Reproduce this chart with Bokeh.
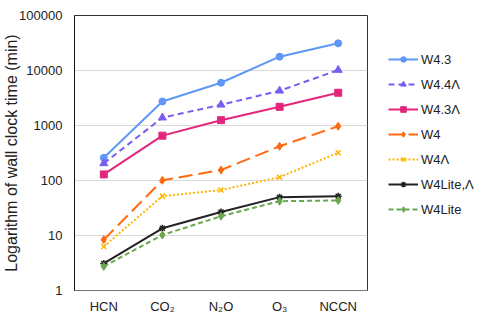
from bokeh.plotting import figure
from bokeh.layouts import row
from bokeh.models import Range1d, FixedTicker, NumeralTickFormatter, Legend, LegendItem
from bokeh.embed import file_html
from bokeh.resources import INLINE

categories = ["HCN", "CO\u2082", "N\u2082O", "O\u2083", "NCCN"]
w43 = [259, 2730, 5990, 17850, 31250]
w44L = [205, 1390, 2380, 4280, 10200]
w43L = [129, 654, 1250, 2185, 3935]
w4 = [8.4, 101, 155, 419, 970]
w4L = [6.3, 52, 67, 115, 320]
w4liteL = [3.1, 13.5, 26.8, 49.8, 51.9]
w4lite = [2.74, 10.2, 22.4, 42, 43.4]
y_ticks = [1, 10, 100, 1000, 10000, 100000]

series = [
    ("W4.3", w43, "#5f97f6", "solid", "circle", 7),
    ("W4.4\u039b", w44L, "#7b5cf0", "6 4", "triangle", 8),
    ("W4.3\u039b", w43L, "#e3267c", "solid", "square", 7),
    ("W4", w4, "#ff6a10", "14 6", "diamond", 8),
    ("W4\u039b", w4L, "#ffb400", "2 2", "x", 7),
    ("W4Lite,\u039b", w4liteL, "#222222", "solid", "asterisk", 7),
    ("W4Lite", w4lite, "#6aa84f", "5 3", "diamond", 8),
]

# main chart
p = figure(width=368, height=327, x_range=categories, y_range=Range1d(1, 100000),
           y_axis_type="log", output_backend="svg", toolbar_location=None,
           min_border_left=73, min_border_right=1, min_border_top=15, min_border_bottom=37)
p.x_range.range_padding = 0

# legend panel (separate figure so the legend can sit beside the frame)
lg = figure(width=124, height=327, x_range=categories, y_range=Range1d(1, 100000),
            y_axis_type="log", output_backend="svg", toolbar_location=None,
            x_axis_location=None, y_axis_location=None,
            min_border_left=0, min_border_right=0, min_border_top=0, min_border_bottom=0)
lg.outline_line_color = None
lg.grid.grid_line_color = None

items = []
for name, vals, color, dash, marker, size in series:
    lw = 1.5 if marker in ("x", "asterisk") else 1
    p.line(categories, vals, line_color=color, line_width=2, line_dash=dash)
    p.scatter(categories, vals, marker=marker, size=size, fill_color=color,
              line_color=color, line_width=lw)
    r1 = lg.line(categories, vals, line_color=color, line_width=2, line_dash=dash, visible=False)
    r2 = lg.scatter(categories, vals, marker=marker, size=size, fill_color=color,
                    line_color=color, line_width=lw, visible=False)
    items.append(LegendItem(label=name, renderers=[r1, r2]))

legend = Legend(items=items, location=(20, 71), padding=0, margin=0,
                border_line_color=None, background_fill_alpha=0,
                glyph_width=30, glyph_height=14, label_height=20,
                spacing=5, label_standoff=3, click_policy="none",
                label_text_font="Liberation Sans", label_text_font_size="13px",
                label_text_color="#222222")
lg.add_layout(legend, "center")

p.outline_line_color = "#333333"
p.xgrid.grid_line_color = None
p.ygrid.grid_line_color = "#dadada"
p.ygrid.grid_line_width = 1

p.yaxis.ticker = FixedTicker(ticks=y_ticks, minor_ticks=[])
p.yaxis.formatter = NumeralTickFormatter(format="0")
p.yaxis.axis_label = "Logarithm of wall clock time (min)"
p.yaxis.axis_label_text_font = "Liberation Sans"
p.yaxis.axis_label_text_font_size = "16px"
p.yaxis.axis_label_text_font_style = "normal"
p.yaxis.axis_label_text_color = "#222222"
p.yaxis.axis_label_standoff = -4
p.yaxis.axis_line_color = "#111111"

p.xaxis.axis_line_color = "#777777"
for ax in (p.xaxis, p.yaxis):
    ax.major_tick_line_color = None
    ax.minor_tick_line_color = None
    ax.major_tick_out = 0
    ax.major_tick_in = 0
    ax.minor_tick_out = 0
    ax.minor_tick_in = 0
    ax.major_label_text_font = "Liberation Sans"
    ax.major_label_text_font_size = "13px"
    ax.major_label_text_color = "#222222"
p.yaxis.major_label_standoff = 12
p.xaxis.major_label_standoff = 8

layout = row(p, lg, spacing=0)
open("out.html", "w").write(file_html(layout, INLINE))
